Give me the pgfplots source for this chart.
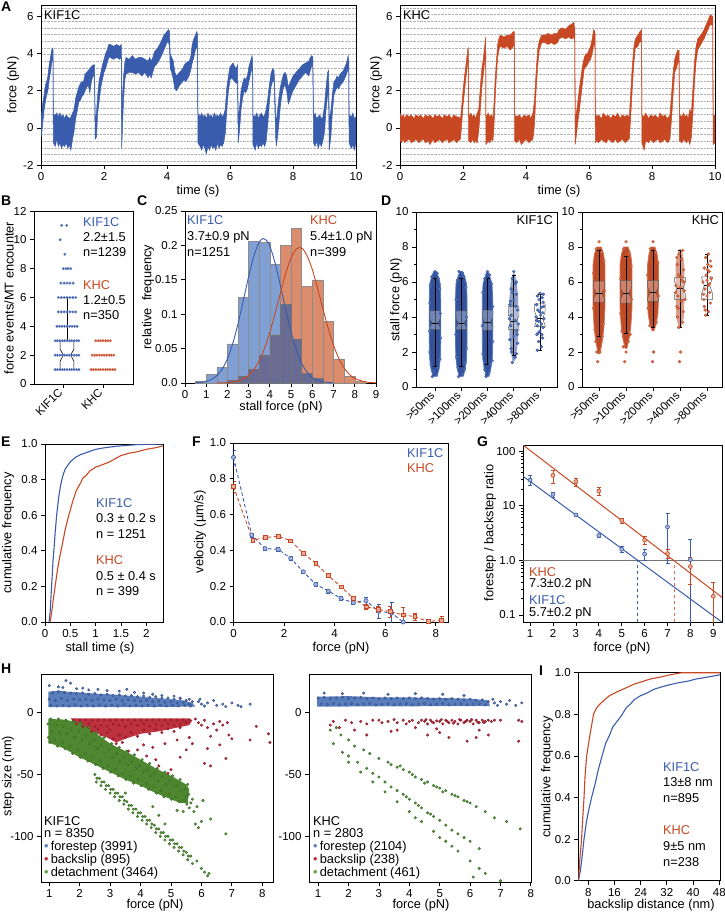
\documentclass[border=0pt]{standalone}
\usepackage{fontspec}
\setmainfont{Liberation Sans}
\usepackage{pgfplots}
\pgfplotsset{compat=1.18}
\usepackage{pgfplotstable}
\usepgfplotslibrary{fillbetween}
\newcommand\fs{\fontsize{12.8}{14}\selectfont}
\newcommand\ft{\fontsize{11.5}{12.5}\selectfont}
\definecolor{kblue}{RGB}{58,92,172}
\definecolor{kred}{RGB}{200,72,35}
\definecolor{hblue}{RGB}{128,160,212}
\definecolor{hred}{RGB}{218,140,108}
\definecolor{hdark}{RGB}{104,108,148}
\definecolor{dblue}{RGB}{52,82,155}
\definecolor{dbluep}{RGB}{85,120,190}
\definecolor{dred}{RGB}{190,75,40}
\definecolor{dredp}{RGB}{215,112,78}
\definecolor{hbB}{RGB}{45,70,130}
\definecolor{hbP}{RGB}{90,125,188}
\definecolor{hrB}{RGB}{130,20,35}
\definecolor{hrP}{RGB}{190,50,62}
\definecolor{hgB}{RGB}{45,95,30}
\definecolor{hgP}{RGB}{98,158,62}
\definecolor{hgF}{RGB}{78,135,48}
\pgfplotsset{base/.style={scale only axis, anchor=north west, axis line style={line width=0.9pt},
  tick align=outside, tick pos=left, major tick length=4pt, minor tick length=2pt,
  tick style={black, line width=0.8pt}, tick label style={font=\ft},
  /pgf/number format/assume math mode=true, clip=true},
  dec1/.style={yticklabel style={/pgf/number format/.cd, fixed, fixed zerofill, precision=1}}}

\pgfplotstableread{
t lo hi
0.00 -0.5 0.6
0.03 -0.2 0.9
0.06 0.3 1.4
0.10 1.0 1.8
0.14 1.4 2.3
0.18 1.8 2.5
0.22 2.0 2.8
0.26 2.6 3.4
0.30 3.0 3.8
0.34 3.5 4.2
0.37 3.8 4.3
0.385 3.6 4.2
0.39 -0.8 0.7
0.45 -1.0 0.7
0.50 -0.6 0.8
0.55 -1.0 0.6
0.60 -0.8 0.8
0.65 -1.1 0.6
0.70 -0.9 0.7
0.75 -1.0 0.5
0.80 -0.8 0.7
0.85 -1.1 0.6
0.90 -0.9 0.5
0.95 -1.2 0.6
1.00 -0.6 0.8
1.05 -0.2 1.0
1.10 0.5 1.6
1.15 0.9 1.9
1.20 1.4 2.2
1.25 1.5 2.4
1.30 1.7 2.5
1.35 1.8 2.5
1.40 2.0 2.9
1.45 2.2 3.0
1.50 2.3 3.1
1.55 1.9 3.2
1.60 2.5 3.3
1.65 2.8 3.4
1.70 2.8 3.4
1.72 -0.6 0.4
1.76 -0.5 0.8
1.80 0.8 1.8
1.85 1.5 2.6
1.90 2.2 3.0
1.95 2.6 3.4
2.00 3.0 3.7
2.05 3.2 4.0
2.10 3.5 4.2
2.15 3.8 4.5
2.20 3.8 4.5
2.30 3.7 4.4
2.40 3.8 4.5
2.50 3.7 4.4
2.55 3.8 4.5
2.56 -1.1 0.5
2.58 -0.3 1.5
2.62 1.5 2.8
2.66 2.6 3.5
2.70 2.9 3.8
2.80 3.0 3.7
2.90 3.0 3.9
3.00 2.9 3.7
3.10 3.0 3.8
3.20 2.8 3.8
3.30 3.0 3.7
3.40 2.7 3.6
3.45 2.9 3.8
3.50 2.7 3.6
3.55 3.0 3.8
3.60 3.3 4.1
3.70 3.5 4.3
3.80 3.8 4.6
3.90 4.2 5.0
4.00 4.6 5.2
4.05 4.6 5.3
4.08 4.4 5.2
4.10 3.2 4.0
4.15 3.0 3.8
4.20 2.6 3.6
4.25 2.1 3.0
4.30 2.0 2.8
4.40 2.3 3.0
4.50 2.5 3.2
4.55 2.6 3.4
4.60 2.5 3.5
4.70 2.8 3.6
4.75 3.1 3.8
4.80 3.5 4.5
4.85 3.8 4.8
4.90 4.2 5.0
4.95 4.4 5.2
4.97 4.2 5.0
4.98 -0.8 0.8
5.05 -1.0 0.6
5.10 -1.2 0.8
5.15 -0.9 0.6
5.20 -1.1 0.7
5.25 -1.4 0.5
5.30 -1.0 0.8
5.35 -1.2 0.6
5.40 -0.9 0.7
5.45 -1.1 0.5
5.50 -1.0 0.8
5.55 -1.2 0.6
5.60 -0.8 0.7
5.65 -1.1 0.6
5.70 -0.9 0.8
5.75 -1.0 0.6
5.80 -0.8 0.7
5.85 -0.3 1.0
5.90 1.0 2.2
5.95 2.0 2.8
6.00 2.6 3.3
6.05 2.7 3.4
6.10 2.6 3.5
6.15 2.5 3.3
6.20 2.4 3.2
6.24 2.5 3.4
6.26 -0.8 0.5
6.30 -0.2 1.0
6.35 1.0 2.0
6.40 1.6 2.4
6.45 2.0 2.7
6.50 1.9 2.6
6.55 2.1 2.8
6.60 2.5 3.3
6.65 2.9 3.6
6.70 3.2 3.9
6.72 3.0 3.6
6.73 -0.9 0.7
6.80 -1.2 0.6
6.85 -0.8 0.8
6.90 -1.1 0.5
6.95 -0.9 0.7
7.00 -1.0 0.8
7.05 -0.8 0.6
7.10 -1.0 0.7
7.15 -0.7 1.0
7.20 0.2 1.6
7.25 1.4 2.3
7.30 2.2 2.9
7.35 2.5 3.2
7.40 2.5 3.1
7.45 -0.5 0.6
7.47 -1.0 0.3
7.50 -0.6 0.8
7.55 0.2 1.6
7.60 1.2 2.2
7.65 1.8 2.6
7.70 2.2 2.9
7.75 2.3 3.0
7.80 2.0 2.8
7.85 1.3 2.2
7.90 1.5 2.4
7.95 1.8 2.6
8.00 2.0 2.8
8.10 2.3 3.0
8.20 2.6 3.2
8.30 2.8 3.4
8.40 3.0 3.5
8.50 2.8 3.6
8.55 3.1 3.8
8.60 3.4 3.9
8.63 3.3 3.8
8.65 -0.8 0.6
8.70 -1.0 0.8
8.75 -0.7 0.5
8.80 -1.1 0.6
8.85 -0.8 0.7
8.90 -1.0 0.5
8.95 -0.7 0.6
9.00 -0.2 1.2
9.05 1.0 2.2
9.10 1.8 3.0
9.13 1.8 3.1
9.15 -1.2 0.4
9.20 -0.5 0.9
9.25 0.8 1.8
9.30 1.8 2.5
9.35 2.0 2.6
9.40 2.2 2.8
9.45 2.1 2.7
9.50 2.3 2.9
9.55 2.4 3.0
9.60 2.5 3.1
9.65 2.7 3.3
9.70 2.9 3.5
9.75 3.2 3.9
9.77 3.0 3.6
9.78 -0.8 0.7
9.85 -1.1 0.6
9.90 -0.9 0.8
9.95 -1.2 0.5
10.00 -0.8 0.6
}\kifA

\pgfplotstableread{
t lo hi
0.00 -0.7 0.8
0.05 -0.8 0.6
0.10 -0.6 0.7
0.15 -0.8 0.5
0.20 -0.7 0.7
0.30 -0.6 0.6
0.35 -0.8 0.7
0.45 -0.7 0.5
0.50 -0.6 0.7
0.60 -0.8 0.6
0.65 -0.7 0.7
0.75 -0.6 0.5
0.80 -0.8 0.7
0.90 -0.7 0.6
0.95 -0.9 0.7
1.05 -0.6 0.5
1.10 -0.8 0.7
1.20 -0.7 0.6
1.25 -0.6 0.7
1.35 -0.8 0.5
1.40 -0.7 0.7
1.50 -0.6 0.6
1.55 -0.8 0.7
1.65 -0.7 0.5
1.70 -0.6 0.7
1.80 -0.8 0.6
1.85 -0.7 0.6
1.92 -0.6 0.5
1.95 0.0 1.0
2.00 1.2 2.0
2.05 2.0 2.8
2.10 2.8 3.5
2.15 3.5 4.2
2.17 3.6 4.3
2.18 -0.7 0.6
2.25 -0.8 0.8
2.30 -0.6 0.6
2.35 -0.8 0.7
2.40 -0.7 0.5
2.45 -0.8 0.8
2.50 -0.2 1.0
2.55 1.0 2.2
2.60 2.2 3.2
2.65 3.0 3.8
2.70 3.8 4.6
2.72 4.2 4.9
2.73 -0.9 0.6
2.80 -0.7 0.8
2.85 -0.8 0.6
2.90 -0.6 0.7
2.95 -0.7 0.5
2.98 0.0 1.2
3.02 1.5 2.6
3.06 2.8 3.6
3.10 3.8 4.5
3.15 4.3 4.9
3.20 4.4 5.0
3.30 4.3 4.9
3.40 4.4 5.0
3.50 4.2 5.0
3.60 4.4 5.2
3.63 4.5 5.2
3.64 -0.7 0.7
3.70 -0.8 0.6
3.80 -0.6 0.7
3.85 -0.9 0.5
3.95 -0.7 0.7
4.00 -0.6 0.6
4.10 -0.8 0.7
4.15 -0.7 0.5
4.22 -0.6 0.8
4.27 0.2 1.5
4.32 2.0 3.0
4.37 3.3 4.2
4.42 4.2 4.7
4.50 4.6 5.0
4.60 4.6 5.0
4.70 4.5 5.1
4.80 4.6 5.0
4.90 4.5 5.1
5.00 4.6 5.1
5.05 4.8 5.3
5.15 4.9 5.4
5.25 4.8 5.3
5.35 4.9 5.5
5.45 4.8 5.6
5.52 4.9 5.7
5.55 4.6 5.3
5.56 -0.9 0.4
5.60 -0.4 0.8
5.65 0.4 1.5
5.70 1.0 2.2
5.75 1.8 2.8
5.80 2.5 3.4
5.85 3.2 3.8
5.90 3.3 4.0
5.95 3.4 4.0
6.00 3.6 4.2
6.05 3.7 4.4
6.10 4.0 4.8
6.15 4.5 5.3
6.19 4.4 5.2
6.20 -0.8 0.8
6.25 -0.7 0.6
6.30 -0.8 0.7
6.40 -0.6 0.5
6.45 -0.7 0.8
6.55 -0.8 0.6
6.60 -0.6 0.7
6.70 -0.7 0.5
6.75 -0.8 0.7
6.85 -0.6 0.6
6.90 -0.8 0.8
7.00 -0.7 0.5
7.05 -0.6 0.7
7.15 -0.8 0.6
7.20 -0.7 0.7
7.28 -0.6 0.6
7.32 0.5 1.8
7.37 2.0 3.2
7.42 3.4 4.3
7.47 4.3 4.8
7.55 4.4 5.0
7.62 4.7 5.2
7.67 4.6 5.3
7.68 -0.8 0.7
7.75 -1.2 0.6
7.80 -0.7 0.8
7.90 -0.8 0.5
7.95 -0.6 0.7
8.05 -0.8 0.6
8.10 -0.7 0.7
8.20 -0.6 0.5
8.25 -0.8 0.8
8.35 -0.7 0.6
8.40 -0.6 0.7
8.50 -0.8 0.5
8.57 -0.6 0.7
8.62 0.5 1.8
8.67 1.8 3.0
8.72 3.0 3.7
8.77 3.2 4.0
8.82 3.5 4.2
8.86 3.6 4.2
8.87 -0.7 0.7
8.95 -0.8 0.6
9.00 -0.6 0.8
9.05 -0.7 0.6
9.10 -0.8 0.7
9.15 -0.6 0.5
9.20 -0.9 1.0
9.25 -0.5 0.8
9.30 0.8 2.2
9.35 2.5 3.6
9.40 3.6 4.4
9.45 4.2 4.8
9.55 4.5 5.0
9.65 4.8 5.3
9.75 5.2 5.7
9.85 5.6 6.1
9.93 5.5 6.0
9.94 -0.9 0.6
10.00 -0.8 0.7
}\khcA

\begin{document}
\begin{tikzpicture}[font=\fs]

% ---------- A left
\begin{axis}[base, at={(41pt,-5pt)}, width=315pt, height=160pt, xmin=0, xmax=10, ymin=-2, ymax=6.63,
  xtick={0,2,...,10}, ytick={-2,0,2,4,6}, minor ytick={-1.8,-1.44,...,6.5}, yminorgrids,
  minor grid style={densely dotted, black!30, line width=0.4pt}, minor tick length=0pt]
\addplot[name path=ka, draw=kblue, line width=0.5pt] table[x=t,y=hi]{\kifA};
\addplot[name path=kb, draw=kblue, line width=0.5pt] table[x=t,y=lo]{\kifA};
\addplot[fill=kblue, draw=none] fill between[of=ka and kb];
\end{axis}
% ---------- A right
\begin{axis}[base, at={(400pt,-5pt)}, width=315pt, height=160pt, xmin=0, xmax=10, ymin=-2, ymax=6.63,
  xtick={0,2,...,10}, ytick={-2,0,2,4,6}, minor ytick={-1.8,-1.44,...,6.5}, yminorgrids,
  minor grid style={densely dotted, black!30, line width=0.4pt}, minor tick length=0pt]
\addplot[name path=ra, draw=kred, line width=0.5pt] table[x=t,y=hi]{\khcA};
\addplot[name path=rb, draw=kred, line width=0.5pt] table[x=t,y=lo]{\khcA};
\addplot[fill=kred, draw=none] fill between[of=ra and rb];
\end{axis}

% ---------- B
\begin{axis}[base, at={(34pt,-211pt)}, width=99pt, height=173pt, xmin=0.083, xmax=2.833, ymin=0, ymax=12,
  ytick={0,2,...,12}, xtick={0.889,2}, xticklabels={KIF1C,KHC}, xticklabel style={rotate=45, anchor=east}]
\addplot[only marks, mark=*, mark size=1.35pt, mark options={fill=kblue, draw=kblue!70!white, line width=0.3pt}] coordinates {
(0.67,1)(0.73,1)(0.8,1)(0.87,1)(0.93,1)(1,1)(1.07,1)(1.13,1)(1.2,1)(1.27,1)(1.33,1)
(0.67,2)(0.73,2)(0.8,2)(0.87,2)(0.93,2)(1,2)(1.07,2)(1.13,2)(1.2,2)(1.27,2)(1.33,2)
(0.67,3)(0.73,3)(0.8,3)(0.87,3)(0.93,3)(1,3)(1.07,3)(1.13,3)(1.2,3)(1.27,3)(1.33,3)
(0.72,4)(0.79,4)(0.86,4)(0.93,4)(1,4)(1.07,4)(1.14,4)(1.21,4)(1.28,4)
(0.76,5)(0.84,5)(0.92,5)(1,5)(1.08,5)(1.16,5)(1.24,5)
(0.76,6)(0.84,6)(0.92,6)(1,6)(1.08,6)(1.16,6)(1.24,6)
(0.83,7)(0.92,7)(1,7)(1.08,7)(1.17,7)
(0.9,8)(0.97,8)(1.03,8)(1.1,8)
(0.94,9)(0.81,10)(0.85,11)(0.99,11)};
\addplot[only marks, mark=*, mark size=1.35pt, mark options={fill=kred, draw=kred!70!white, line width=0.3pt}] coordinates {
(1.67,1)(1.73,1)(1.8,1)(1.87,1)(1.93,1)(2,1)(2.07,1)(2.13,1)(2.2,1)(2.27,1)(2.33,1)
(1.7,2)(1.77,2)(1.83,2)(1.9,2)(1.97,2)(2.03,2)(2.1,2)(2.17,2)(2.23,2)(2.3,2)
(1.8,3)(1.87,3)(1.93,3)(2,3)(2.07,3)(2.13,3)(2.2,3)};
\addplot[black, line width=0.6pt] coordinates {(0.81,1)(1.19,1)(1.19,1.6)(1.1,2)(1.19,2.4)(1.19,3)(0.81,3)(0.81,2.4)(0.9,2)(0.81,1.6)(0.81,1)};
\addplot[black, line width=0.6pt, unbounded coords=jump] coordinates {(0.9,2)(1.1,2)(nan,nan)(1,3)(1,6)(nan,nan)(0.9,6)(1.1,6)(nan,nan)(1.67,1)(2.33,1)};
\end{axis}

% ---------- C
\begin{axis}[base, at={(185pt,-211pt)}, width=191pt, height=172pt, xmin=0, xmax=9, ymin=0, ymax=0.25,
  xtick={0,...,9}, ytick={0,0.05,0.1,0.15,0.2,0.25}, yticklabels={0.0,0.05,0.1,0.15,0.2,0.25}]
\addplot[ybar interval, fill=hblue, draw=black!45, line width=0.5pt] coordinates {
(0.5,0.003)(1,0.012)(1.5,0.023)(2,0.057)(2.5,0.124)(3,0.206)(3.5,0.204)(4,0.172)(4.5,0.114)(5,0.064)(5.5,0.014)(6,0.007)(6.5,0)};
\addplot[ybar interval, fill=hred, draw=black!45, line width=0.5pt] coordinates {
(2,0.004)(2.5,0.01)(3,0.02)(3.5,0.04)(4,0.07)(4.5,0.2)(5,0.225)(5.5,0.14)(6,0.15)(6.5,0.09)(7,0.035)(7.5,0.01)(8,0.003)(8.5,0)};
\addplot[ybar interval, fill=hdark, draw=black!55, line width=0.5pt] coordinates {
(2,0.004)(2.5,0.01)(3,0.02)(3.5,0.04)(4,0.07)(4.5,0.114)(5,0.064)(5.5,0.014)(6,0.007)(6.5,0)};
\addplot[kblue, line width=0.9pt, smooth] coordinates {
(0.5,0.0004)(0.75,0.001)(1,0.0023)(1.25,0.0052)(1.5,0.0106)(1.75,0.0201)(2,0.0353)(2.25,0.0573)(2.5,0.0863)(2.75,0.120)(3,0.155)(3.25,0.185)(3.5,0.205)(3.7,0.21)(3.9,0.205)(4,0.199)(4.25,0.174)(4.5,0.141)(4.75,0.106)(5,0.074)(5.25,0.048)(5.5,0.0284)(5.75,0.0157)(6,0.008)(6.25,0.0038)(6.5,0.0017)(6.75,0.0007)(7,0.0003)};
\addplot[kred, line width=0.9pt, smooth] coordinates {
(1.5,0.0001)(2,0.0006)(2.5,0.0029)(2.75,0.0059)(3,0.011)(3.25,0.0195)(3.5,0.0324)(3.75,0.0505)(4,0.074)(4.25,0.102)(4.5,0.131)(4.75,0.16)(5,0.182)(5.25,0.195)(5.4,0.197)(5.55,0.195)(5.75,0.185)(6,0.165)(6.25,0.137)(6.5,0.108)(6.75,0.079)(7,0.0548)(7.25,0.0356)(7.5,0.0217)(7.75,0.0124)(8,0.0067)(8.5,0.0016)(9,0.0003)};
\end{axis}

% ---------- D left
\begin{axis}[base, at={(416pt,-212pt)}, width=141pt, height=175pt, xmin=0.276, xmax=5.648, ymin=0, ymax=10,
  ytick={0,2,...,10}, minor ytick={1,3,5,7,9}, xtick={1,...,5},
  xticklabels={>50ms,>100ms,>200ms,>400ms,>800ms}, xticklabel style={rotate=45, anchor=east}]
\addplot[fill=dblue, draw=dbluep, line width=0.8pt] coordinates {(0.93,0.6)(0.85,1.0)(0.8,1.6)(0.78,2.5)(0.78,5.0)(0.8,5.9)(0.86,6.25)(0.95,6.6)(1.05,6.6)(1.14,6.25)(1.2,5.9)(1.22,5.0)(1.22,2.5)(1.2,1.6)(1.15,1.0)(1.07,0.6)};
\addplot[fill=dblue, draw=dbluep, line width=0.8pt] coordinates {(1.93,0.6)(1.85,1.0)(1.8,1.6)(1.78,2.5)(1.78,5.0)(1.8,5.9)(1.86,6.25)(1.95,6.6)(2.05,6.6)(2.14,6.25)(2.2,5.9)(2.22,5.0)(2.22,2.5)(2.2,1.6)(2.15,1.0)(2.07,0.6)};
\addplot[fill=dblue, draw=dbluep, line width=0.8pt] coordinates {(2.95,0.6)(2.88,1.0)(2.82,1.6)(2.8,2.5)(2.8,5.0)(2.83,5.9)(2.9,6.25)(2.97,6.6)(3.03,6.6)(3.1,6.25)(3.17,5.9)(3.2,5.0)(3.2,2.5)(3.18,1.6)(3.12,1.0)(3.05,0.6)};
\addplot[fill=dblue, fill opacity=0.55, draw=none] coordinates {(3.95,1.5)(3.87,2.2)(3.83,3.0)(3.83,5.0)(3.88,6.0)(3.97,6.5)(4.03,6.5)(4.12,6.0)(4.17,5.0)(4.17,3.0)(4.13,2.2)(4.05,1.5)};
\addplot[only marks, mark=*, mark size=1.5pt, mark options={fill=dbluep, draw=dblue, line width=0.3pt}] coordinates {
(0.9,0.6)(1.05,0.7)(0.95,0.9)(1.1,1.1)(0.88,6.3)(1.0,6.6)(1.08,6.5)(1.12,6.2)(0.82,5.8)(1.18,5.6)(0.8,4.8)(1.2,4.2)(0.79,3.2)(1.21,2.8)(0.8,2.0)(1.19,1.6)(0.85,1.3)
(1.9,0.6)(2.05,0.75)(2.12,1.0)(1.88,1.1)(1.92,6.6)(2.05,6.5)(2.1,6.3)(1.85,6.1)(2.18,5.7)(1.8,5.0)(2.2,4.0)(1.79,3.0)(2.2,2.2)(1.82,1.7)(2.15,1.4)
(2.95,0.6)(3.05,0.8)(2.9,1.0)(3.1,1.3)(3.0,6.6)(3.08,6.4)(2.9,6.2)(3.15,5.9)(2.82,5.4)(3.2,4.6)(2.8,3.5)(3.2,2.6)(2.82,1.9)(3.18,1.5)
(3.95,1.4)(4.05,1.7)(4.1,1.9)(3.9,2.2)(4.15,2.5)(3.85,2.7)(4.0,2.9)(4.12,3.2)(3.88,3.5)(4.05,3.8)(3.9,4.1)(4.15,4.4)(3.85,4.7)(4.0,5.0)(4.1,5.3)(3.9,5.6)(4.05,5.9)(3.95,6.2)(4.0,6.6)(4.1,6.0)(3.87,4.9)(4.13,3.0)(3.92,2.0)(4.18,3.6)(3.83,3.9)(4.08,4.6)(3.96,5.4)
(4.9,2.1)(5.05,2.3)(4.95,2.6)(5.1,2.8)(4.88,3.0)(5.0,3.2)(5.12,3.4)(4.9,3.5)(5.05,3.6)(4.95,3.75)(5.15,3.9)(4.85,4.0)(5.02,4.1)(5.1,4.25)(4.92,4.4)(5.05,4.55)(4.87,4.7)(5.12,4.85)(4.97,5.0)(5.08,5.1)(4.9,5.2)(5.0,5.35)(5.13,5.3)(4.94,3.1)(5.07,3.0)(4.98,4.3)(4.86,3.8)(5.14,4.6)};
\addplot[black, line width=0.5pt, unbounded coords=jump] coordinates {
(1,1.2)(1,6.2)(nan,nan)(0.92,1.2)(1.08,1.2)(nan,nan)(0.92,6.2)(1.08,6.2)(nan,nan)
(2,1.2)(2,6.2)(nan,nan)(1.92,1.2)(2.08,1.2)(nan,nan)(1.92,6.2)(2.08,6.2)(nan,nan)
(3,1.3)(3,6.2)(nan,nan)(2.92,1.3)(3.08,1.3)(nan,nan)(2.92,6.2)(3.08,6.2)(nan,nan)
(4,1.8)(4,6.4)(nan,nan)(3.92,1.8)(4.08,1.8)(nan,nan)(3.92,6.4)(4.08,6.4)(nan,nan)
(5,2.1)(5,5.3)(nan,nan)(4.92,2.1)(5.08,2.1)(nan,nan)(4.92,5.3)(5.08,5.3)};
\addplot[fill=white, fill opacity=0.3, draw=black!65, line width=0.5pt] coordinates {(0.8,3.3)(1.2,3.3)(1.2,3.4)(1.1,3.65)(1.2,3.9)(1.2,4.35)(0.8,4.35)(0.8,3.9)(0.9,3.65)(0.8,3.4)(0.8,3.3)};
\addplot[fill=white, fill opacity=0.3, draw=black!65, line width=0.5pt] coordinates {(1.8,3.3)(2.2,3.3)(2.2,3.4)(2.1,3.65)(2.2,3.9)(2.2,4.35)(1.8,4.35)(1.8,3.9)(1.9,3.65)(1.8,3.4)(1.8,3.3)};
\addplot[fill=white, fill opacity=0.3, draw=black!65, line width=0.5pt] coordinates {(2.8,3.25)(3.2,3.25)(3.2,3.45)(3.1,3.7)(3.2,3.95)(3.2,4.4)(2.8,4.4)(2.8,3.95)(2.9,3.7)(2.8,3.45)(2.8,3.25)};
\addplot[fill=white, fill opacity=0.3, draw=black!65, line width=0.5pt] coordinates {(3.8,3.3)(4.2,3.3)(4.2,3.4)(4.1,3.75)(4.2,4.1)(4.2,4.6)(3.8,4.6)(3.8,4.1)(3.9,3.75)(3.8,3.4)(3.8,3.3)};
\addplot[fill=white, fill opacity=0.3, draw=black!65, line width=0.5pt] coordinates {(4.8,3.45)(5.2,3.45)(5.2,3.5)(5.1,3.9)(5.2,4.3)(5.2,4.75)(4.8,4.75)(4.8,4.3)(4.9,3.9)(4.8,3.5)(4.8,3.45)};
\addplot[black, line width=0.8pt, unbounded coords=jump] coordinates {(0.9,3.65)(1.1,3.65)(nan,nan)(1.9,3.65)(2.1,3.65)(nan,nan)(2.9,3.7)(3.1,3.7)(nan,nan)(3.9,3.75)(4.1,3.75)(nan,nan)(4.9,3.9)(5.1,3.9)};
\end{axis}

% ---------- D right
\begin{axis}[base, at={(582pt,-212pt)}, width=140pt, height=175pt, xmin=0.37, xmax=5.555, ymin=0, ymax=10,
  ytick={0,2,...,10}, minor ytick={1,3,5,7,9}, xtick={1,...,5},
  xticklabels={>50ms,>100ms,>200ms,>400ms,>800ms}, xticklabel style={rotate=45, anchor=east}]
\addplot[fill=dred, draw=dredp, line width=0.8pt] coordinates {(0.97,1.9)(0.88,2.6)(0.82,3.4)(0.78,4.5)(0.78,7.0)(0.83,7.6)(0.92,8.0)(1.08,8.0)(1.17,7.6)(1.22,7.0)(1.22,4.5)(1.18,3.4)(1.12,2.6)(1.03,1.9)};
\addplot[fill=dred, draw=dredp, line width=0.8pt] coordinates {(1.97,2.2)(1.88,2.8)(1.82,3.5)(1.78,4.5)(1.78,7.0)(1.83,7.6)(1.92,8.0)(2.08,8.0)(2.17,7.6)(2.22,7.0)(2.22,4.5)(2.18,3.5)(2.12,2.8)(2.03,2.2)};
\addplot[fill=dred, draw=dredp, line width=0.8pt] coordinates {(2.97,3.2)(2.88,3.6)(2.82,4.2)(2.8,5.0)(2.8,7.0)(2.85,7.6)(2.93,8.0)(3.07,8.0)(3.15,7.6)(3.2,7.0)(3.2,5.0)(3.18,4.2)(3.12,3.6)(3.03,3.2)};
\addplot[fill=dred, fill opacity=0.55, draw=none] coordinates {(3.95,3.4)(3.86,4.0)(3.84,5.0)(3.84,7.0)(3.9,7.6)(3.98,7.9)(4.02,7.9)(4.1,7.6)(4.16,7.0)(4.16,5.0)(4.14,4.0)(4.05,3.4)};
\addplot[only marks, mark=*, mark size=1.5pt, mark options={fill=dredp, draw=dred, line width=0.3pt}] coordinates {
(0.95,1.45)(1.03,2.0)(0.92,2.0)(1.0,8.3)(0.9,7.9)(1.1,7.7)(0.88,2.6)(1.12,2.9)(0.85,3.3)(1.15,3.6)(0.8,4.5)(1.2,5.5)(0.8,6.5)(1.18,7.2)
(1.95,1.45)(2.0,2.0)(1.9,2.3)(2.08,2.6)(2.0,8.3)(1.92,7.9)(2.1,7.6)(1.85,3.2)(2.15,3.0)(1.8,4.2)(2.2,5.0)(1.8,6.2)(2.18,6.9)
(2.98,1.45)(3.02,2.0)(3.0,8.3)(2.9,7.9)(3.1,7.7)(2.88,3.5)(3.12,3.7)(2.82,4.5)(3.2,5.2)(2.8,6.4)(3.18,7.1)
(3.98,1.45)(4.02,2.0)(3.95,3.4)(4.1,3.7)(3.9,4.0)(4.12,4.3)(3.88,4.6)(4.05,4.9)(3.92,5.2)(4.15,5.5)(3.85,5.8)(4.08,6.1)(3.95,6.4)(4.13,6.7)(3.9,7.0)(4.05,7.3)(3.97,7.6)(4.1,7.8)(3.88,7.4)(4.18,5.0)(3.84,5.4)(4.0,5.7)(4.03,6.3)(3.93,4.5)(4.14,6.0)
(4.95,4.1)(5.05,4.3)(4.9,4.6)(5.12,4.8)(4.88,5.0)(5.0,5.2)(5.1,5.4)(4.92,5.6)(5.05,5.8)(4.85,6.0)(5.15,6.2)(4.97,6.4)(5.08,6.6)(4.9,6.8)(5.03,7.0)(5.12,7.2)(4.95,7.4)(5.05,7.6)(5.1,5.9)(4.87,5.3)(5.0,6.1)(5.14,6.9)(4.93,4.4)(5.02,6.7)};
\addplot[black, line width=0.5pt, unbounded coords=jump] coordinates {
(1,2.9)(1,7.8)(nan,nan)(0.92,2.9)(1.08,2.9)(nan,nan)(0.92,7.8)(1.08,7.8)(nan,nan)
(2,3.1)(2,7.5)(nan,nan)(1.92,3.1)(2.08,3.1)(nan,nan)(1.92,7.5)(2.08,7.5)(nan,nan)
(3,3.4)(3,7.8)(nan,nan)(2.92,3.4)(3.08,3.4)(nan,nan)(2.92,7.8)(3.08,7.8)(nan,nan)
(4,3.4)(4,7.8)(nan,nan)(3.92,3.4)(4.08,3.4)(nan,nan)(3.92,7.8)(4.08,7.8)(nan,nan)
(5,4.1)(5,7.6)(nan,nan)(4.92,4.1)(5.08,4.1)(nan,nan)(4.92,7.6)(5.08,7.6)};
\addplot[fill=white, fill opacity=0.3, draw=black!65, line width=0.5pt] coordinates {(0.8,4.85)(1.2,4.85)(1.2,5.05)(1.1,5.35)(1.2,5.65)(1.2,6.05)(0.8,6.05)(0.8,5.65)(0.9,5.35)(0.8,5.05)(0.8,4.85)};
\addplot[fill=white, fill opacity=0.3, draw=black!65, line width=0.5pt] coordinates {(1.8,4.8)(2.2,4.8)(2.2,5.05)(2.1,5.35)(2.2,5.65)(2.2,6.1)(1.8,6.1)(1.8,5.65)(1.9,5.35)(1.8,5.05)(1.8,4.8)};
\addplot[fill=white, fill opacity=0.3, draw=black!65, line width=0.5pt] coordinates {(2.8,4.9)(3.2,4.9)(3.2,5.1)(3.1,5.4)(3.2,5.7)(3.2,6.1)(2.8,6.1)(2.8,5.7)(2.9,5.4)(2.8,5.1)(2.8,4.9)};
\addplot[fill=white, fill opacity=0.3, draw=black!65, line width=0.5pt] coordinates {(3.8,5.0)(4.2,5.0)(4.2,5.3)(4.1,5.65)(4.2,6.0)(4.2,6.25)(3.8,6.25)(3.8,6.0)(3.9,5.65)(3.8,5.3)(3.8,5.0)};
\addplot[fill=white, fill opacity=0.3, draw=black!65, line width=0.5pt] coordinates {(4.8,5.0)(5.2,5.0)(5.2,5.35)(5.1,5.8)(5.2,6.25)(5.2,6.3)(4.8,6.3)(4.8,6.25)(4.9,5.8)(4.8,5.35)(4.8,5.0)};
\addplot[black, line width=0.8pt, unbounded coords=jump] coordinates {(0.9,5.35)(1.1,5.35)(nan,nan)(1.9,5.35)(2.1,5.35)(nan,nan)(2.9,5.4)(3.1,5.4)(nan,nan)(3.9,5.65)(4.1,5.65)(nan,nan)(4.9,5.8)(5.1,5.8)};
\end{axis}

% ---------- E
\begin{axis}[base, dec1, at={(45pt,-444pt)}, width=118pt, height=178pt, xmin=0, xmax=2.33, ymin=0, ymax=1,
  xtick={0,0.5,1,1.5,2}, ytick={0,0.2,...,1}]
\addplot[kblue, line width=1.1pt] coordinates {(0.08,0)(0.1,0.05)(0.12,0.15)(0.14,0.25)(0.16,0.35)(0.18,0.42)(0.2,0.5)(0.23,0.6)(0.27,0.7)(0.31,0.77)(0.35,0.82)(0.4,0.86)(0.45,0.88)(0.5,0.9)(0.6,0.925)(0.7,0.94)(0.8,0.95)(0.9,0.96)(1.0,0.97)(1.2,0.98)(1.4,0.987)(1.6,0.992)(1.8,0.996)(2.0,0.998)(2.33,1.0)};
\addplot[kred, line width=1.1pt] coordinates {(0.1,0)(0.13,0.05)(0.16,0.12)(0.2,0.2)(0.25,0.3)(0.3,0.38)(0.33,0.42)(0.4,0.52)(0.47,0.6)(0.55,0.68)(0.62,0.74)(0.7,0.78)(0.75,0.81)(0.8,0.82)(0.89,0.85)(1.0,0.87)(1.1,0.88)(1.28,0.9)(1.4,0.92)(1.5,0.935)(1.68,0.95)(1.8,0.955)(2.0,0.97)(2.2,0.98)(2.33,0.99)};
\end{axis}

% ---------- F
\begin{axis}[base, dec1, at={(233.5pt,-443pt)}, width=214.5pt, height=179pt, xmin=0, xmax=8.48, ymin=0, ymax=1,
  xtick={0,2,...,8}, ytick={0,0.2,...,1}]
\addplot[kblue, line width=0.9pt, dash pattern=on 3.5pt off 2.5pt, mark=*, mark size=2.1pt,
  mark options={solid, fill=kblue!45, draw=kblue, line width=0.6pt},
  error bars/.cd, y dir=both, y explicit, error bar style={solid, kblue, line width=0.6pt}, error mark options={rotate=90, mark size=2pt, kblue, solid}]
coordinates {(0,0.92)+-(0,0.04)(0.72,0.486)+-(0,0.01)(1.25,0.41)+-(0,0.01)(1.77,0.406)+-(0,0.01)(2.26,0.356)+-(0,0.01)(2.76,0.281)+-(0,0.01)(3.25,0.21)+-(0,0.01)(3.75,0.173)+-(0,0.01)(4.25,0.132)+-(0,0.01)(4.74,0.108)+-(0,0.01)(5.24,0.119)+-(0,0.02)(5.74,0.06)+-(0,0.04)(6.25,0.05)+-(0,0.06)(6.71,0.0)+-(0,0.005)};
\addplot[kred, line width=0.9pt, dash pattern=on 3.5pt off 2.5pt, mark=square*, mark size=1.9pt,
  mark options={solid, fill=kred!45, draw=kred, line width=0.6pt},
  error bars/.cd, y dir=both, y explicit, error bar style={solid, kred, line width=0.6pt}, error mark options={rotate=90, mark size=2pt, kred, solid}]
coordinates {(0,0.756)+-(0,0.03)(0.76,0.458)+-(0,0.012)(1.25,0.471)+-(0,0.01)(1.77,0.48)+-(0,0.01)(2.26,0.454)+-(0,0.01)(2.76,0.384)+-(0,0.01)(3.25,0.328)+-(0,0.01)(3.75,0.259)+-(0,0.01)(4.25,0.197)+-(0,0.01)(4.74,0.132)+-(0,0.01)(5.24,0.085)+-(0,0.012)(5.72,0.071)+-(0,0.015)(6.19,0.058)+-(0,0.03)(6.7,0.04)+-(0,0.04)(7.17,0.03)+-(0,0.02)(7.7,0.002)+-(0,0.005)(8.23,0.011)+-(0,0.02)};
\end{axis}

% ---------- G
\begin{axis}[base, at={(523pt,-445pt)}, width=199pt, height=177pt, xmin=0.69, xmax=9.38, ymode=log, ymin=0.0745, ymax=129,
  xtick={1,...,9}, ytick={0.1,1,10,100}, yticklabels={0.1,1.0,10,100}]
\addplot[black!55, line width=0.9pt] coordinates {(0.69,1)(9.38,1)};
\addplot[kred, line width=1pt] coordinates {(0.69,129)(9.38,0.21)};
\addplot[kblue, line width=1pt] coordinates {(0.69,34.6)(9.38,0.074)};
\addplot[kblue, line width=0.9pt, dash pattern=on 3.5pt off 2.5pt] coordinates {(5.7,0.0745)(5.7,1)};
\addplot[kred!80, line width=0.9pt, dash pattern=on 3.5pt off 2.5pt] coordinates {(7.3,0.0745)(7.3,1)};
\addplot[only marks, mark=*, mark size=2pt, mark options={fill=kblue!45, draw=kblue, line width=0.6pt},
  error bars/.cd, y dir=both, y explicit, error bar style={kblue, line width=0.6pt}, error mark options={rotate=90, mark size=2pt, kblue}]
coordinates {(1,29.5)+=(0,6)-=(0,5.5)(2,16.2)+=(0,1.8)-=(0,1.7)(3,6.8)+=(0,0.4)-=(0,0.4)(4,2.86)+=(0,0.15)-=(0,0.15)(5,1.6)+=(0,0.2)-=(0,0.2)(6,1.3)+=(0,0.3)-=(0,0.3)(7,4.1)+=(0,3.1)-=(0,3.2)(8,1.03)+=(0,1.4)-=(0,0.96)};
\addplot[only marks, mark=*, mark size=2pt, mark options={fill=kred!45, draw=kred, line width=0.6pt},
  error bars/.cd, y dir=both, y explicit, error bar style={kred, line width=0.6pt}, error mark options={rotate=90, mark size=2pt, kred}]
coordinates {(2,36)+=(0,9)-=(0,10)(3,27.5)+=(0,5)-=(0,5)(4,18.6)+=(0,3)-=(0,3)(5,5.4)+=(0,0.6)-=(0,0.6)(6,2.35)+=(0,0.4)-=(0,0.4)(7,1.33)+=(0,0.25)-=(0,0.25)(8,0.77)+=(0,0.35)-=(0,0.4)(9,0.22)+=(0,0.18)-=(0,0.16)};
\end{axis}

% ---------- H left
\begin{axis}[base, at={(41pt,-674pt)}, width=232pt, height=208pt, xmin=0.73, xmax=8.35, ymin=-137, ymax=31.4,
  xtick={1,...,8}, ytick={-100,-50,0}]
\addplot[fill=hbP, draw=none] coordinates {(0.97,4.5)(0.97,17)(1.3,18)(1.6,17)(2.0,16.5)(2.5,15.5)(3.0,15)(3.5,14)(4.0,13)(4.5,12)(5.0,11)(5.4,10)(5.7,8)(5.8,5)(3,4.5)(0.97,4.5)};
\addplot[only marks, mark=*, mark size=1.3pt, mark options={fill=hbP, draw=hbB, line width=0.35pt}] coordinates {
(1.1,16)(1.0,11)(1.05,6)(1.3,17)(1.2,10)(1.25,5.5)(1.5,16.5)(1.4,11.5)(1.45,6)(1.7,16)(1.6,10)(1.65,5.5)(1.9,15.5)(1.8,11)(1.85,6.5)(2.1,16)(2.0,10.5)(2.05,5.5)(2.3,15)(2.2,11)(2.25,6)(2.5,15.5)(2.4,10)(2.45,5.5)(2.7,14.5)(2.6,11)(2.65,6.5)(2.9,15)(2.8,10.5)(2.85,5.5)(3.1,14)(3.0,10)(3.05,6)(3.3,14.5)(3.2,11)(3.25,5.5)(3.5,13.5)(3.4,10)(3.45,6.5)(3.7,14)(3.6,10.5)(3.65,5.5)(3.9,13)(3.8,10)(3.85,6)(4.1,13.5)(4.0,9.5)(4.05,5.5)(4.3,12.5)(4.2,10)(4.25,6)(4.5,13)(4.4,9)(4.45,5.5)(4.7,12)(4.6,9.5)(4.65,6)(4.9,12)(4.8,8.5)(4.85,5.5)(5.1,11)(5.0,9)(5.05,6)(5.3,11.5)(5.2,8)(5.25,5.5)(5.5,10)(5.4,8.5)(5.45,6)(5.7,9)(5.6,7)(5.65,5.5)
(1.0,22)(1.3,21)(1.45,20.5)(1.55,26)(1.7,24)(1.9,19.5)(2.1,20)(2.3,18.5)(2.6,19)(2.9,18)(3.3,17.5)(3.55,19)(3.8,16.5)(4.1,16)(4.4,15)(4.7,14)(5.1,13.5)(5.3,12)(5.6,11)(5.9,9)(6.0,7)(6.2,8)(6.4,10)(6.5,6)(6.7,7)(6.8,5)(7.0,8)(7.2,6)(7.3,5)(7.6,7)(6.1,5.5)(5.95,11)};
\addplot[fill=hrP, draw=none] coordinates {(1.7,-4.5)(5.6,-4.5)(5.7,-6)(5.6,-10)(5.2,-12)(4.6,-15)(4.0,-17)(3.5,-21)(3.2,-24)(2.9,-20)(2.5,-16)(2.1,-11)(1.8,-7)};
\addplot[only marks, mark=*, mark size=1.3pt, mark options={fill=hrP, draw=hrB, line width=0.35pt}] coordinates {
(1.8,-6)(1.9,-9)(2.0,-6)(2.1,-11)(2.2,-6)(2.3,-9)(2.4,-6)(2.5,-11)(2.6,-6)(2.7,-10)(2.8,-6)(2.9,-11)(3.0,-6)(3.1,-9)(3.2,-6)(3.3,-10)(3.4,-6)(3.5,-11)(3.6,-6)(3.7,-9)(3.8,-6)(3.9,-10)(4.0,-6)(4.1,-9)(4.2,-6)(4.3,-11)(4.4,-6)(4.5,-9)(4.6,-6)(4.7,-10)(4.8,-6)(4.9,-9)(5.0,-6)(5.1,-10)(5.2,-6)(5.3,-9)(5.4,-6)(5.5,-8)(5.6,-6)
(2.4,-15)(2.7,-18)(2.9,-16)(3.1,-21)(3.3,-18)(3.0,-14)(3.5,-20)(3.7,-16)(3.9,-19)(4.1,-14)(4.3,-17)(4.5,-13)(4.7,-16)(4.9,-13)(5.1,-15)(5.3,-12)(2.6,-13)(3.2,-25)(3.4,-24)
(5.8,-5)(5.9,-8)(6.0,-10)(6.1,-6)(6.2,-12)(6.3,-19)(6.4,-9)(6.5,-14)(6.6,-7)(6.7,-10)(6.9,-18)(7.0,-21)(6.85,-8)(7.8,-11)(8.2,-17)(8.25,-24)(7.6,-22)(6.6,-26)(6.8,-37)(6.1,-41)(6.3,-43)(5.5,-30)(5.3,-36)(5.0,-46)(4.9,-49)(4.6,-43)(4.5,-38)(4.2,-35)(3.9,-30)(4.1,-26)(4.8,-25)(5.2,-22)(5.6,-20)(3.6,-31)(4.4,-28)(5.7,-25)(6.2,-29)};
\addplot[fill=hgF, draw=none] coordinates {(0.97,-5)(1.5,-5.5)(2.0,-8)(2.5,-16)(3.0,-25)(3.5,-31)(4.0,-38)(4.5,-45)(5.0,-51)(5.5,-58)(5.6,-62)(5.55,-73)(5.3,-73)(5.0,-70)(4.5,-65)(4.0,-59)(3.5,-54)(3.0,-48)(2.5,-42)(2.0,-36)(1.5,-29)(0.97,-24)};
\addplot[only marks, mark=*, mark size=1.3pt, mark options={fill=hgP, draw=hgB, line width=0.35pt}] coordinates {
(1.05,-5)(0.96,-9)(1.08,-15)(0.97,-20)(1.02,-24)(1.3,-5)(1.21,-10)(1.33,-16)(1.18,-22)(1.27,-27)(1.55,-6)(1.46,-11)(1.58,-17)(1.43,-24)(1.52,-29)(1.8,-7)(1.71,-13)(1.83,-20)(1.68,-27)(1.77,-33)(2.05,-8)(1.96,-15)(2.08,-22)(1.93,-30)(2.02,-36)(2.3,-12)(2.21,-18)(2.33,-25)(2.18,-33)(2.27,-39)(2.55,-16)(2.46,-22)(2.58,-29)(2.43,-36)(2.52,-42)(2.8,-20)(2.71,-26)(2.83,-33)(2.68,-39)(2.77,-45)(3.05,-25)(2.96,-30)(3.08,-36)(2.93,-43)(3.02,-48)(3.3,-28)(3.21,-33)(3.33,-39)(3.18,-46)(3.27,-51)(3.55,-31)(3.46,-36)(3.58,-42)(3.43,-49)(3.52,-54)(3.8,-34)(3.71,-40)(3.83,-45)(3.68,-51)(3.77,-57)(4.05,-38)(3.96,-43)(4.08,-48)(3.93,-54)(4.02,-59)(4.3,-41)(4.21,-46)(4.33,-51)(4.18,-57)(4.27,-62)(4.55,-45)(4.46,-49)(4.58,-55)(4.43,-60)(4.52,-65)(4.8,-48)(4.71,-52)(4.83,-58)(4.68,-63)(4.77,-68)(5.05,-51)(4.96,-55)(5.08,-60)(4.93,-66)(5.02,-70)(5.3,-54)(5.21,-59)(5.33,-63)(5.18,-68)(5.27,-72)(5.55,-58)(5.46,-62)(5.58,-66)(5.43,-71)(5.52,-74)
(2.5,-50)(2.55,-56)(2.57,-53)(2.65,-53)(2.7,-59)(2.72,-56)(2.8,-56)(2.85,-62)(2.87,-59)(2.95,-59)(3.0,-65)(3.02,-62)(3.1,-62)(3.15,-68)(3.17,-65)(3.25,-65)(3.3,-71)(3.32,-68)(3.4,-68)(3.45,-74)(3.47,-71)(3.55,-72)(3.6,-78)(3.62,-75)(3.7,-75)(3.75,-81)(3.77,-78)(3.85,-78)(3.9,-84)(3.92,-81)(4.0,-81)(4.05,-87)(4.07,-84)(4.15,-84)(4.2,-90)(4.22,-87)(4.3,-87)(4.35,-93)(4.37,-90)(4.45,-91)(4.5,-97)(4.52,-94)(4.6,-94)(4.65,-100)(4.67,-97)(4.75,-97)(4.8,-103)(4.82,-100)(4.9,-100)(4.95,-106)(4.97,-103)(5.05,-103)(5.1,-109)(5.12,-106)(5.2,-106)(5.25,-112)(5.27,-109)(5.35,-109)(5.4,-115)(5.42,-112)(5.5,-113)(5.55,-119)(5.57,-116)(5.65,-116)(5.7,-122)(5.85,-120)(6.0,-126)(6.1,-129)(6.2,-132)(6.25,-130)
(5.8,-90)(5.9,-93)(6.0,-88)(6.3,-86)(6.8,-98)(5.6,-77)(5.75,-80)(5.65,-73)(5.4,-80)(5.2,-79)(5.5,-68)(4.4,-76)(4.6,-83)(4.8,-90)(3.5,-65)(6.05,-71)(5.85,-76)(5.7,-70)};
\end{axis}

% ---------- H right
\begin{axis}[base, at={(309pt,-674pt)}, width=222.5pt, height=208pt, xmin=0.70, xmax=8.02, ymin=-137, ymax=31.4,
  xtick={1,...,8}, ytick={-100,-50,0}]
\addplot[fill=hbP, draw=none] coordinates {(0.97,5)(0.97,13)(2,13.5)(3,12.5)(4,12.5)(5,12)(6,11.5)(6.6,10)(6.65,5.5)(0.97,5)};
\addplot[only marks, mark=*, mark size=1.3pt, mark options={fill=hbP, draw=hbB, line width=0.35pt}] coordinates {
(1.0,12)(1.1,7)(1.2,12.5)(1.3,6.5)(1.4,11.5)(1.5,7.5)(1.6,12)(1.7,6.5)(1.8,12.5)(1.9,7)(2.0,11.5)(2.1,7.5)(2.2,12)(2.3,6.5)(2.4,12.5)(2.5,7)(2.6,11.5)(2.7,7.5)(2.8,12)(2.9,6.5)(3.0,11.5)(3.1,7)(3.2,12)(3.3,7.5)(3.4,11.5)(3.5,6.5)(3.6,12)(3.7,7)(3.8,11.5)(3.9,7.5)(4.0,12)(4.1,6.5)(4.2,11.5)(4.3,7)(4.4,12)(4.5,7.5)(4.6,11.5)(4.7,6.5)(4.8,11)(4.9,7)(5.0,11.5)(5.1,7.5)(5.2,11)(5.3,6.5)(5.4,11.5)(5.5,7)(5.6,11)(5.7,7.5)(5.8,10.5)(5.9,6.5)(6.0,11)(6.1,7)(6.2,10)(6.3,7.5)(6.4,10.5)(6.5,6.5)(6.6,9)
(1.2,16)(1.8,15.5)(2.5,16)(3.3,15)(4.2,15.5)(5.1,15)(5.8,14)(6.8,8)(6.9,6)(7.0,9)(7.2,7)(7.5,6)(7.7,8)(6.75,11)(7.3,10)};
\addplot[only marks, mark=*, mark size=1.3pt, mark options={fill=hrP, draw=hrB, line width=0.35pt}] coordinates {
(1.5,-7)(1.7,-12)(1.9,-6)(2.1,-8)(2.4,-7)(2.6,-9)(2.8,-6)(3.0,-6)(3.1,-8)(3.3,-7)(3.5,-5.5)(3.6,-8)(3.8,-6)(3.9,-9)(4.0,-7)(4.1,-6)(4.2,-12)(4.3,-8)(4.4,-6)(4.5,-7)(4.6,-9)(4.7,-6)(4.8,-8)(4.9,-6.5)(5.0,-7)(5.1,-9)(5.2,-6)(5.3,-8)(5.4,-6)(5.5,-7)(5.6,-9)(5.7,-6)(5.8,-8)(5.9,-6)(6.0,-7)(6.1,-9)(6.2,-6)(6.3,-8)(6.4,-6)(6.5,-7)(6.6,-6)(6.7,-7)(6.8,-6)(7.0,-6)(7.6,-6)(7.7,-7)(3.4,-15)(3.6,-14)(4.6,-18)(5.0,-16)(5.3,-20)(5.9,-23)(6.2,-20)(6.6,-18)(6.3,-14)(4.9,-13)(7.6,-23)(2.2,-14)(2.6,-18)(1.4,-10)
(4.55,-5.5)(4.75,-7.5)(5.05,-5.5)(5.25,-7)(5.45,-8.5)(5.65,-5.5)(5.85,-7)(6.05,-5.5)(6.25,-7.5)(6.45,-8)};
\addplot[only marks, mark=*, mark size=1.3pt, mark options={fill=hgP, draw=hgB, line width=0.35pt}] coordinates {
(1.4,-14)(2.0,-22)(2.5,-30)(3.0,-37)(3.3,-40)(3.6,-44)(3.8,-46)(4.0,-48)(4.2,-52)(4.4,-54)(4.6,-56)(4.8,-59)(5.0,-61)(5.2,-63)(5.4,-66)(5.6,-68)(5.8,-71)(6.0,-73)(6.2,-76)(6.5,-80)(6.8,-85)(7.2,-88)(7.65,-94)(4.1,-50)(4.5,-57)(4.9,-60)(5.1,-64)(5.5,-67)(5.9,-72)(3.4,-42)(3.7,-43)
(1.5,-25)(1.8,-32)(2.0,-35)(2.3,-40)(2.6,-45)(2.8,-49)(3.0,-52)(3.2,-56)(3.4,-60)(3.6,-63)(3.8,-66)(4.0,-70)(4.2,-73)(4.4,-77)(4.6,-81)(4.8,-84)(5.0,-87)(5.2,-91)(5.4,-95)(5.6,-98)(5.8,-101)(6.0,-104)(6.3,-110)(3.9,-68)(4.3,-75)(4.7,-82)
(2.0,-40)(2.4,-48)(2.8,-56)(3.2,-64)(3.6,-72)(4.0,-80)(4.4,-88)(4.8,-96)(5.2,-104)(5.6,-112)(6.0,-120)(6.3,-126)(6.5,-130)(6.1,-133)(7.0,-136)(4.2,-85)(5.0,-101)(5.4,-108)(1.6,-12)(1.75,-18)(2.2,-27)(2.7,-33)};
\end{axis}

% ---------- I
\begin{axis}[base, dec1, at={(578.3pt,-672.7pt)}, width=141.7pt, height=208pt, xmin=4.95, xmax=48.22, ymin=0, ymax=1,
  xtick={8,16,...,48}, ytick={0,0.2,...,1}]
\addplot[kblue, line width=1.1pt] coordinates {(5,0)(5.6,0.05)(6.0,0.1)(6.7,0.2)(7.4,0.28)(8.0,0.33)(9.0,0.4)(10,0.46)(11,0.53)(12.2,0.6)(13.3,0.66)(14.5,0.7)(15.5,0.74)(16.5,0.76)(18.4,0.8)(19.5,0.83)(20.9,0.85)(22,0.87)(23,0.88)(24,0.89)(25.6,0.9)(28,0.92)(30,0.93)(32.3,0.94)(35,0.95)(38.6,0.96)(41,0.97)(44.8,0.98)(48.22,0.99)};
\addplot[kred, line width=1.1pt] coordinates {(5,0)(5.4,0.1)(5.95,0.2)(6.3,0.3)(6.7,0.4)(7.0,0.5)(7.5,0.6)(8.5,0.7)(9.6,0.8)(10.5,0.83)(11.6,0.85)(13,0.87)(14.5,0.89)(15.8,0.9)(17,0.91)(18.5,0.92)(19.9,0.93)(22,0.945)(25,0.96)(27,0.97)(30.3,0.98)(33,0.99)(36.5,1.0)(48.22,1.0)};
\end{axis}

% ---------- texts
\begin{scope}[x=1pt, y=-1pt]
\begin{scope}[font=\fontsize{14}{16}\selectfont\bfseries]
\node[anchor=north west, inner sep=0pt] at (1,2) {A};
\node[anchor=north west, inner sep=0pt] at (1,196) {B};
\node[anchor=north west, inner sep=0pt] at (137,196) {C};
\node[anchor=north west, inner sep=0pt] at (381,196) {D};
\node[anchor=north west, inner sep=0pt] at (1,437) {E};
\node[anchor=north west, inner sep=0pt] at (192,437) {F};
\node[anchor=north west, inner sep=0pt] at (477,437) {G};
\node[anchor=north west, inner sep=0pt] at (1,664) {H};
\node[anchor=north west, inner sep=0pt] at (539,666) {I};
\end{scope}
% A
\node[rotate=90] at (13,85) {force (pN)};
\node[rotate=90] at (376,85) {force (pN)};
\node at (198,191) {time (s)};
\node at (559,191) {time (s)};
\node[anchor=west, inner sep=0pt] at (44,15) {KIF1C};
\node[anchor=west, inner sep=0pt] at (403,15) {KHC};
% B
\node[rotate=90] at (9,298) {force events/MT encounter};
\node[anchor=west, inner sep=0pt] at (83,222) {\textcolor{kblue}{KIF1C}};
\node[anchor=west, inner sep=0pt] at (83,237) {2.2±1.5};
\node[anchor=west, inner sep=0pt] at (83,252) {n=1239};
\node[anchor=west, inner sep=0pt] at (83,285) {\textcolor{kred}{KHC}};
\node[anchor=west, inner sep=0pt] at (83,300) {1.2±0.5};
\node[anchor=west, inner sep=0pt] at (83,315) {n=350};
% C
\node[rotate=90] at (148,297) {relative~ frequency};
\node at (281,407) {stall force (pN)};
\node[anchor=west, inner sep=0pt] at (187,220) {\textcolor{kblue}{KIF1C}};
\node[anchor=west, inner sep=0pt] at (187,237) {3.7±0.9 pN};
\node[anchor=west, inner sep=0pt] at (187,252) {n=1251};
\node[anchor=west, inner sep=0pt] at (310,220) {\textcolor{kred}{KHC}};
\node[anchor=west, inner sep=0pt] at (310,237) {5.4±1.0 pN};
\node[anchor=west, inner sep=0pt] at (310,252) {n=399};
% D
\node[rotate=90] at (396,300) {stall force (pN)};
\node[anchor=east, inner sep=0pt] at (553,220) {KIF1C};
\node[anchor=east, inner sep=0pt] at (719,220) {KHC};
% E
\node[rotate=90] at (8,533) {cumulative frequency};
\node at (100,648) {stall time (s)};
\node[anchor=west, inner sep=0pt] at (96,503) {\textcolor{kblue}{KIF1C}};
\node[anchor=west, inner sep=0pt] at (96,518) {0.3 ± 0.2 s};
\node[anchor=west, inner sep=0pt] at (96,534) {n = 1251};
\node[anchor=west, inner sep=0pt] at (96,560) {\textcolor{kred}{KHC}};
\node[anchor=west, inner sep=0pt] at (96,576) {0.5 ± 0.4 s};
\node[anchor=west, inner sep=0pt] at (96,591) {n = 399};
% F
\node[rotate=90] at (200,532) {velocity (µm/s)};
\node at (341,648) {force (pN)};
\node[anchor=west, inner sep=0pt] at (407,453) {\textcolor{kblue}{KIF1C}};
\node[anchor=west, inner sep=0pt] at (407,468) {\textcolor{kred}{KHC}};
% G
\node[rotate=90] at (490,533) {forestep / backstep ratio};
\node at (622,648) {force (pN)};
\node[anchor=west, inner sep=0pt] at (529,572) {\textcolor{kred}{KHC}};
\node[anchor=west, inner sep=0pt] at (529,584) {7.3±0.2 pN};
\node[anchor=west, inner sep=0pt] at (529,600) {\textcolor{kblue}{KIF1C}};
\node[anchor=west, inner sep=0pt] at (529,613) {5.7±0.2 pN};
% H
\node[rotate=90] at (8,776) {step size (nm)};
\node at (155,905) {force (pN)};
\node at (421,905) {force (pN)};
\node[anchor=west, inner sep=0pt] at (44,821) {KIF1C};
\node[anchor=west, inner sep=0pt] at (44,833) {n = 8350};
\node[anchor=west, inner sep=0pt] at (44,847) {\textcolor{hbP}{\textbullet}\,forestep (3991)};
\node[anchor=west, inner sep=0pt] at (44,860) {\textcolor{hrP}{\textbullet}\,backslip (895)};
\node[anchor=west, inner sep=0pt] at (44,873) {\textcolor{hgP}{\textbullet}\,detachment (3464)};
\node[anchor=west, inner sep=0pt] at (313,821) {KHC};
\node[anchor=west, inner sep=0pt] at (313,833) {n = 2803};
\node[anchor=west, inner sep=0pt] at (313,847) {\textcolor{hbP}{\textbullet}\,forestep (2104)};
\node[anchor=west, inner sep=0pt] at (313,860) {\textcolor{hrP}{\textbullet}\,backslip (238)};
\node[anchor=west, inner sep=0pt] at (313,873) {\textcolor{hgP}{\textbullet}\,detachment (461)};
% I
\node[rotate=90] at (547,777) {cumulative frequency};
\node at (651,905) {backslip distance (nm)};
\node[anchor=west, inner sep=0pt] at (663,767) {\textcolor{kblue}{KIF1C}};
\node[anchor=west, inner sep=0pt] at (663,782) {13±8 nm};
\node[anchor=west, inner sep=0pt] at (663,798) {n=895};
\node[anchor=west, inner sep=0pt] at (663,830) {\textcolor{kred}{KHC}};
\node[anchor=west, inner sep=0pt] at (663,846) {9±5 nm};
\node[anchor=west, inner sep=0pt] at (663,862) {n=238};
\end{scope}
\pgfresetboundingbox
\path[use as bounding box] (0pt,0pt) rectangle (724pt,-913pt);
\end{tikzpicture}
\end{document}
